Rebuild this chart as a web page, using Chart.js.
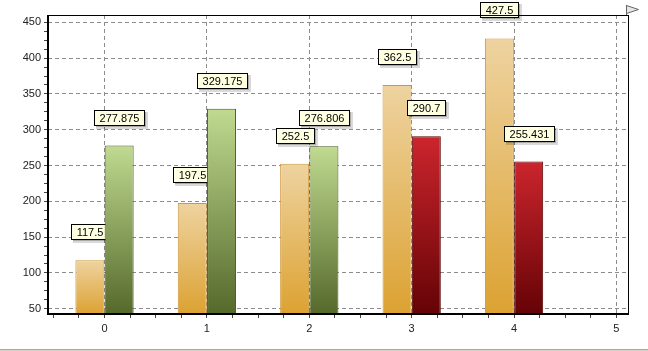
<!DOCTYPE html>
<html>
<head>
<meta charset="utf-8">
<script src="https://cdn.jsdelivr.net/npm/chart.js@4/dist/chart.umd.min.js"></script>
<style>
  html, body { margin: 0; padding: 0; background: #fff; }
  #wrap { width: 648px; height: 351px; position: relative; }
</style>
</head>
<body>
<div id="wrap"><canvas id="chart"></canvas></div>
<script>
// chart values
const categories = [0, 1, 2, 3, 4];
const seriesA = [117.5, 197.5, 252.5, 362.5, 427.5];
const seriesB = [277.875, 329.175, 276.806, 290.7, 255.431];
const seriesBColors = ["green", "green", "green", "red", "red"];
const xTickLabels = [0, 1, 2, 3, 4, 5];
const yTickLabels = [50, 100, 150, 200, 250, 300, 350, 400, 450];

const palettes = {
  orange: { top: "#eed3a0", bottom: "#dca232", border: "#cf983a" },
  green: { top: "#c0da90", bottom: "#55692b", border: "#465a20" },
  red: { top: "#cc252d", bottom: "#650306", border: "#520000" },
};

const barOffset = 0.143; // half a bar, in x units
const fontFamily = "'Liberation Sans', Arial, sans-serif";

function barFill(ctx, pal) {
  const y = ctx.chart.scales.y;
  if (!y || !ctx.parsed) return pal.bottom;
  const top = y.getPixelForValue(ctx.parsed.y);
  const bottom = y.getPixelForValue(y.min);
  if (!Number.isFinite(top) || !Number.isFinite(bottom) || top === bottom) return pal.bottom;
  const g = ctx.chart.ctx.createLinearGradient(0, top, 0, bottom);
  g.addColorStop(0, pal.top);
  g.addColorStop(1, pal.bottom);
  return g;
}

// value boxes, drawn right after each dataset so the next bars cover them
const valueBoxes = {
  id: "valueBoxes",
  afterDatasetDraw(chart, args) {
    const c = chart.ctx;
    const ds = chart.data.datasets[args.index];
    c.save();
    c.font = "11px " + fontFamily;
    args.meta.data.forEach((bar, i) => {
      const text = String(ds.data[i].y);
      const w = Math.round(c.measureText(text).width) + 10;
      const h = 15;
      const x0 = Math.round(bar.x - w / 2) + 0.5;
      const y0 = Math.round(bar.y) - 21 - h + 0.5;
      c.fillStyle = "rgba(0,0,0,0.15)";
      c.fillRect(x0 + 1.5, y0 + 1.5, w + 2, h + 2);
      c.fillStyle = "rgba(0,0,0,0.22)";
      c.fillRect(x0 + 1.5, y0 + 1.5, w, h);
      c.fillStyle = "#ffffe1";
      c.fillRect(x0, y0, w, h);
      c.strokeStyle = "#000";
      c.lineWidth = 1;
      c.strokeRect(x0, y0, w, h);
      c.fillStyle = "#000";
      c.textAlign = "center";
      c.textBaseline = "middle";
      c.fillText(text, x0 + w / 2, y0 + h / 2 + 0.5);
    });
    c.restore();
  },
};

// plot frame, corner flag and window edge
const frame = {
  id: "frame",
  afterDraw(chart) {
    const c = chart.ctx;
    const a = chart.chartArea;
    c.save();
    c.fillStyle = "#000";
    c.fillRect(a.left, a.top, a.right - a.left, 1);
    c.fillRect(a.right, a.top, 1, a.bottom - a.top);
    c.fillRect(a.left - 1, a.top, 2, a.bottom - a.top + 1);
    c.fillRect(a.left - 1, a.bottom - 1, a.right - a.left + 2, 2);
    // flag
    c.fillStyle = "#555";
    c.fillRect(a.right - 2, a.top - 10, 1, 10);
    c.beginPath();
    c.moveTo(a.right - 1.5, a.top - 9.5);
    c.lineTo(a.right + 10.5, a.top - 5.5);
    c.lineTo(a.right - 1.5, a.top - 1.5);
    c.closePath();
    c.fillStyle = "#e6e6e6";
    c.fill();
    c.strokeStyle = "#666";
    c.lineWidth = 1;
    c.stroke();
    // window edge
    c.fillStyle = "#aca899";
    c.fillRect(0, 349, chart.width, 1);
    c.fillStyle = "#d6d2c6";
    c.fillRect(0, 350, chart.width, 1);
    c.restore();
  },
};

new Chart(document.getElementById("chart"), {
  type: "bar",
  data: {
    datasets: [
      {
        label: "A",
        data: seriesA.map((v, i) => ({ x: categories[i] - barOffset, y: v })),
        backgroundColor: (ctx) => barFill(ctx, palettes.orange),
        borderColor: palettes.orange.border,
        borderWidth: 1,
        grouped: false,
        barPercentage: 2,
        categoryPercentage: 1,
        maxBarThickness: 29,
        order: 1,
      },
      {
        label: "B",
        data: seriesB.map((v, i) => ({ x: categories[i] + barOffset, y: v })),
        backgroundColor: (ctx) => barFill(ctx, palettes[seriesBColors[ctx.dataIndex]] || palettes.green),
        borderColor: (ctx) => (palettes[seriesBColors[ctx.dataIndex]] || palettes.green).border,
        borderWidth: 1,
        grouped: false,
        barPercentage: 2,
        categoryPercentage: 1,
        maxBarThickness: 29,
        order: 0,
      },
    ],
  },
  options: {
    responsive: true,
    maintainAspectRatio: false,
    animation: false,
    layout: { padding: { left: 0, top: 15, right: 20, bottom: 0 } },
    scales: {
      x: {
        type: "linear",
        offset: false,
        min: -0.552,
        max: 5.113,
        afterBuildTicks: (s) => {
          const t = [];
          for (let v = -0.5; v <= 5; v += 0.25) t.push({ value: v });
          s.ticks = t;
        },
        afterFit: (s) => { s.height = 37; },
        ticks: {
          autoSkip: false,
          maxRotation: 0,
          padding: 4,
          font: { family: fontFamily, size: 11 },
          color: "#222",
          callback: (v) => (xTickLabels.includes(v) ? String(v) : ""),
        },
        grid: {
          offset: false,
          color: (ctx) => (ctx.tick && xTickLabels.includes(ctx.tick.value) ? "#8c8c8c" : "rgba(0,0,0,0)"),
          tickColor: "#444",
          tickLength: 4,
        },
        border: { display: false, dash: [4, 3] },
      },
      y: {
        type: "linear",
        min: 42.6,
        max: 460.2,
        afterBuildTicks: (s) => {
          const t = [];
          for (let v = 50; v <= 450; v += 12.5) t.push({ value: v });
          s.ticks = t;
        },
        afterFit: (s) => { s.width = 48; },
        ticks: {
          autoSkip: false,
          padding: 3,
          font: { family: fontFamily, size: 11 },
          color: "#222",
          callback: (v) => (yTickLabels.includes(v) ? String(v) : ""),
        },
        grid: {
          color: (ctx) => (ctx.tick && yTickLabels.includes(ctx.tick.value) ? "#8c8c8c" : "rgba(0,0,0,0)"),
          tickColor: "#444",
          tickLength: 4,
        },
        border: { display: false, dash: [4, 3] },
      },
    },
    plugins: {
      legend: { display: false },
      tooltip: { enabled: false },
    },
  },
  plugins: [valueBoxes, frame],
});
</script>
</body>
</html>
